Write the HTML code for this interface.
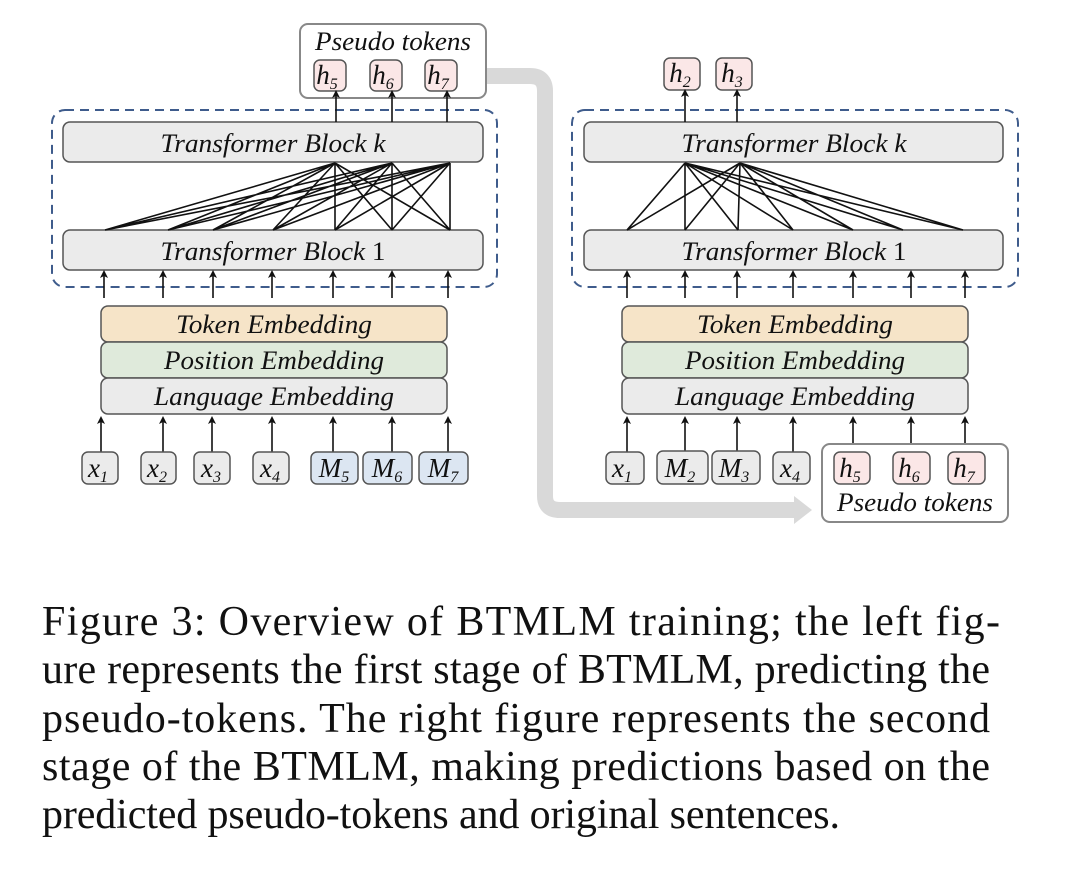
<!DOCTYPE html>
<html><head><meta charset="utf-8"><style>
html,body{margin:0;padding:0;background:#fff;width:1080px;height:877px;overflow:hidden}
svg{display:block}
.i{font-family:"Liberation Serif",serif;font-style:italic;fill:#111}
.c{font-family:"Liberation Serif",serif;fill:#111;font-size:42px}
</style></head><body>
<svg width="1080" height="877" viewBox="0 0 1080 877" xmlns="http://www.w3.org/2000/svg">
<defs>
<marker id="a" markerWidth="8" markerHeight="8" refX="4" refY="4" orient="auto" markerUnits="userSpaceOnUse"><path d="M0,0 L8,4 L0,8 L2,4 Z" fill="#111"/></marker>
</defs>
<path d="M487,76 L530,76 Q545,76 545,91 L545,496 Q545,510 560,510 L795,510" stroke="#d9d9d9" stroke-width="16" fill="none"/>
<polygon points="794,496 812,510 794,524" fill="#d9d9d9"/>

<!-- LEFT -->
<rect x="300" y="24" width="186" height="74" rx="8" fill="#fff" stroke="#888" stroke-width="2"/>
<text x="393" y="50" class="i" font-size="26" text-anchor="middle" textLength="156" lengthAdjust="spacingAndGlyphs">Pseudo tokens</text>
<g fill="#fbe7e7" stroke="#555" stroke-width="1.5">
<rect x="314" y="60" width="32" height="31" rx="6"/><rect x="370" y="60" width="32" height="31" rx="6"/><rect x="425" y="60" width="32" height="31" rx="6"/>
</g>
<g class="i" font-size="27" text-anchor="middle">
<text x="327" y="84">h<tspan font-size="16" dy="5">5</tspan></text>
<text x="383" y="84">h<tspan font-size="16" dy="5">6</tspan></text>
<text x="438" y="84">h<tspan font-size="16" dy="5">7</tspan></text>
</g>
<rect x="52" y="110" width="445" height="177" rx="13" fill="none" stroke="#3f5c8c" stroke-width="2" stroke-dasharray="9,6"/>
<rect x="63" y="122" width="420" height="40" rx="7" fill="#ebebeb" stroke="#555" stroke-width="1.5"/>
<rect x="63" y="230" width="420" height="40" rx="7" fill="#ebebeb" stroke="#555" stroke-width="1.5"/>
<text x="273" y="152" class="i" font-size="26" text-anchor="middle" textLength="225" lengthAdjust="spacingAndGlyphs">Transformer Block k</text>
<text x="273" y="260" class="i" font-size="26" text-anchor="middle" textLength="225" lengthAdjust="spacingAndGlyphs">Transformer Block <tspan font-style="normal">1</tspan></text>
<path stroke="#111" stroke-width="1.6" fill="none" d="
M335,163L105,230 M335,163L168,230 M335,163L213,230 M335,163L273,230 M335,163L335,230 M335,163L392,230 M335,163L450,230
M392,163L105,230 M392,163L168,230 M392,163L213,230 M392,163L273,230 M392,163L335,230 M392,163L392,230 M392,163L450,230
M450,163L105,230 M450,163L168,230 M450,163L213,230 M450,163L273,230 M450,163L335,230 M450,163L392,230 M450,163L450,230"/>
<g stroke="#111" stroke-width="1.6" marker-end="url(#a)">
<line x1="336" y1="122" x2="336" y2="94"/><line x1="392" y1="122" x2="392" y2="94"/><line x1="447" y1="122" x2="447" y2="94"/>
<line x1="104" y1="298" x2="104" y2="274"/><line x1="163" y1="298" x2="163" y2="274"/><line x1="213" y1="298" x2="213" y2="274"/><line x1="272" y1="298" x2="272" y2="274"/><line x1="333" y1="298" x2="333" y2="274"/><line x1="392" y1="298" x2="392" y2="274"/><line x1="448" y1="298" x2="448" y2="274"/>
<line x1="101" y1="452" x2="101" y2="420"/><line x1="163" y1="452" x2="163" y2="420"/><line x1="212" y1="452" x2="212" y2="420"/><line x1="272" y1="452" x2="272" y2="420"/><line x1="333" y1="452" x2="333" y2="420"/><line x1="392" y1="452" x2="392" y2="420"/><line x1="448" y1="452" x2="448" y2="420"/>
</g>
<rect x="101" y="306" width="346" height="36" rx="7" fill="#f6e4c8" stroke="#555" stroke-width="1.5"/>
<rect x="101" y="342" width="346" height="36" rx="7" fill="#dfeadb" stroke="#555" stroke-width="1.5"/>
<rect x="101" y="378" width="346" height="36" rx="7" fill="#ebebeb" stroke="#555" stroke-width="1.5"/>
<g class="i" font-size="26" text-anchor="middle" lengthAdjust="spacingAndGlyphs">
<text x="274" y="333" textLength="196" lengthAdjust="spacingAndGlyphs">Token Embedding</text><text x="274" y="369" textLength="220" lengthAdjust="spacingAndGlyphs">Position Embedding</text><text x="274" y="405" textLength="240" lengthAdjust="spacingAndGlyphs">Language Embedding</text>
</g>
<g fill="#ebebeb" stroke="#555" stroke-width="1.5">
<rect x="82" y="452" width="36" height="32" rx="6"/><rect x="141" y="452" width="35" height="32" rx="6"/><rect x="194" y="452" width="36" height="32" rx="6"/><rect x="253" y="452" width="36" height="32" rx="6"/>
</g>
<g fill="#dce6f2" stroke="#555" stroke-width="1.5">
<rect x="311" y="452" width="47" height="32" rx="6"/><rect x="363" y="452" width="49" height="32" rx="6"/><rect x="419" y="452" width="49" height="32" rx="6"/>
</g>
<g class="i" font-size="27" text-anchor="middle">
<text x="98" y="477">x<tspan font-size="16" dy="5">1</tspan></text>
<text x="157" y="477">x<tspan font-size="16" dy="5">2</tspan></text>
<text x="211" y="477">x<tspan font-size="16" dy="5">3</tspan></text>
<text x="270" y="477">x<tspan font-size="16" dy="5">4</tspan></text>
<text x="334" y="477">M<tspan font-size="16" dy="5">5</tspan></text>
<text x="387" y="477">M<tspan font-size="16" dy="5">6</tspan></text>
<text x="443" y="477">M<tspan font-size="16" dy="5">7</tspan></text>
</g>

<!-- RIGHT -->
<g fill="#fbe7e7" stroke="#555" stroke-width="1.5">
<rect x="664" y="58" width="36" height="32" rx="6"/><rect x="716" y="58" width="36" height="32" rx="6"/>
</g>
<g class="i" font-size="27" text-anchor="middle">
<text x="680" y="82">h<tspan font-size="16" dy="5">2</tspan></text>
<text x="732" y="82">h<tspan font-size="16" dy="5">3</tspan></text>
</g>
<rect x="572" y="110" width="446" height="177" rx="13" fill="none" stroke="#3f5c8c" stroke-width="2" stroke-dasharray="9,6"/>
<rect x="584" y="122" width="419" height="40" rx="7" fill="#ebebeb" stroke="#555" stroke-width="1.5"/>
<rect x="584" y="230" width="419" height="40" rx="7" fill="#ebebeb" stroke="#555" stroke-width="1.5"/>
<text x="794" y="152" class="i" font-size="26" text-anchor="middle" textLength="225" lengthAdjust="spacingAndGlyphs">Transformer Block k</text>
<text x="794" y="260" class="i" font-size="26" text-anchor="middle" textLength="225" lengthAdjust="spacingAndGlyphs">Transformer Block <tspan font-style="normal">1</tspan></text>
<path stroke="#111" stroke-width="1.6" fill="none" d="
M685,163L627,230 M685,163L685,230 M685,163L738,230 M685,163L793,230 M685,163L853,230 M685,163L903,230 M685,163L963,230
M740,163L627,230 M740,163L685,230 M740,163L738,230 M740,163L793,230 M740,163L853,230 M740,163L903,230 M740,163L963,230"/>
<g stroke="#111" stroke-width="1.6" marker-end="url(#a)">
<line x1="685" y1="122" x2="685" y2="93"/><line x1="737" y1="122" x2="737" y2="93"/>
<line x1="627" y1="298" x2="627" y2="274"/><line x1="685" y1="298" x2="685" y2="274"/><line x1="737" y1="298" x2="737" y2="274"/><line x1="793" y1="298" x2="793" y2="274"/><line x1="853" y1="298" x2="853" y2="274"/><line x1="911" y1="298" x2="911" y2="274"/><line x1="965" y1="298" x2="965" y2="274"/>
<line x1="627" y1="452" x2="627" y2="420"/><line x1="685" y1="452" x2="685" y2="420"/><line x1="737" y1="452" x2="737" y2="420"/><line x1="793" y1="452" x2="793" y2="420"/><line x1="853" y1="452" x2="853" y2="420"/><line x1="911" y1="452" x2="911" y2="420"/><line x1="965" y1="452" x2="965" y2="420"/>
</g>
<rect x="622" y="306" width="346" height="36" rx="7" fill="#f6e4c8" stroke="#555" stroke-width="1.5"/>
<rect x="622" y="342" width="346" height="36" rx="7" fill="#dfeadb" stroke="#555" stroke-width="1.5"/>
<rect x="622" y="378" width="346" height="36" rx="7" fill="#ebebeb" stroke="#555" stroke-width="1.5"/>
<g class="i" font-size="26" text-anchor="middle">
<text x="795" y="333" textLength="196" lengthAdjust="spacingAndGlyphs">Token Embedding</text><text x="795" y="369" textLength="220" lengthAdjust="spacingAndGlyphs">Position Embedding</text><text x="795" y="405" textLength="240" lengthAdjust="spacingAndGlyphs">Language Embedding</text>
</g>
<rect x="822" y="444" width="186" height="78" rx="8" fill="#fff" stroke="#888" stroke-width="2"/>
<text x="915" y="511" class="i" font-size="26" text-anchor="middle" textLength="156" lengthAdjust="spacingAndGlyphs">Pseudo tokens</text>
<g fill="#ebebeb" stroke="#555" stroke-width="1.5">
<rect x="606" y="452" width="38" height="32" rx="6"/><rect x="657" y="451" width="51" height="33" rx="6"/><rect x="712" y="451" width="48" height="33" rx="6"/><rect x="773" y="452" width="37" height="32" rx="6"/>
</g>
<g fill="#fbe7e7" stroke="#555" stroke-width="1.5">
<rect x="834" y="452" width="36" height="32" rx="6"/><rect x="893" y="452" width="37" height="32" rx="6"/><rect x="948" y="452" width="37" height="32" rx="6"/>
</g>
<g class="i" font-size="27" text-anchor="middle">
<text x="622" y="477">x<tspan font-size="16" dy="5">1</tspan></text>
<text x="680" y="477">M<tspan font-size="16" dy="5">2</tspan></text>
<text x="734" y="477">M<tspan font-size="16" dy="5">3</tspan></text>
<text x="790" y="477">x<tspan font-size="16" dy="5">4</tspan></text>
<text x="850" y="477">h<tspan font-size="16" dy="5">5</tspan></text>
<text x="909" y="477">h<tspan font-size="16" dy="5">6</tspan></text>
<text x="964" y="477">h<tspan font-size="16" dy="5">7</tspan></text>
</g>

<!-- caption -->
<text class="c" x="42" y="635" textLength="958" lengthAdjust="spacing">Figure 3: Overview of BTMLM training; the left fig-</text>
<text class="c" x="42" y="683" textLength="948" lengthAdjust="spacing">ure represents the first stage of BTMLM, predicting the</text>
<text class="c" x="42" y="732" textLength="948" lengthAdjust="spacing">pseudo-tokens. The right figure represents the second</text>
<text class="c" x="42" y="780" textLength="948" lengthAdjust="spacing">stage of the BTMLM, making predictions based on the</text>
<text class="c" x="42" y="828" textLength="798" lengthAdjust="spacing">predicted pseudo-tokens and original sentences.</text>
</svg>
</body></html>
